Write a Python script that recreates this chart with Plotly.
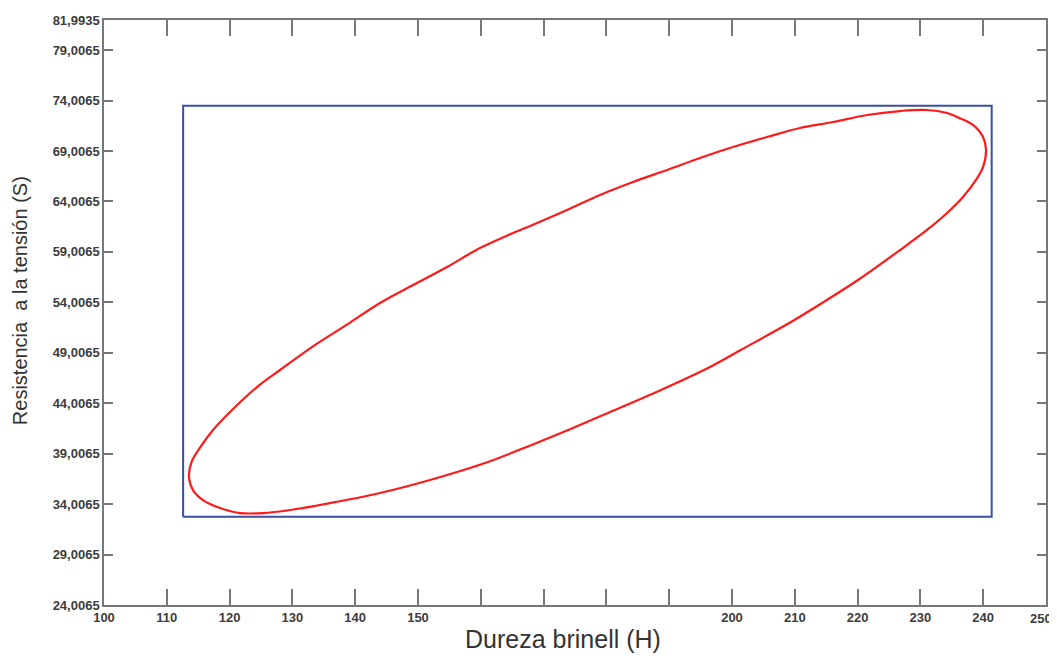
import plotly.graph_objects as go

# ---- data ----
x_tick_values = [100, 110, 120, 130, 140, 150, 160, 170, 180, 190, 200, 210, 220, 230, 240, 250]
x_tick_labels = ["100", "110", "120", "130", "140", "150", "", "", "", "", "200", "210", "220", "230", "240", ""]
x_last_label = "250"
y_tick_values = [24.0065, 29.0065, 34.0065, 39.0065, 44.0065, 49.0065, 54.0065, 59.0065,
                 64.0065, 69.0065, 74.0065, 79.0065, 81.9935]
y_tick_labels = ["24,0065", "29,0065", "34,0065", "39,0065", "44,0065", "49,0065", "54,0065",
                 "59,0065", "64,0065", "69,0065", "74,0065", "79,0065", "81,9935"]

# bounding rectangle (H range, S range)
rect_h = [112.6, 241.35]
rect_s = [32.75, 73.5]

# confidence ellipse contour points (H, S)
ellipse_h = [113.54, 113.95, 115.29, 117.36, 120.06, 124.36, 128.03, 133.28, 138.69, 143.95,
             149.20, 154.62, 159.87, 165.13, 168.31, 173.73, 178.98, 184.24, 189.65, 194.90,
             200.16, 205.57, 210.83, 216.08, 221.50, 226.75, 231.05, 234.24, 235.83, 238.38,
             239.97, 240.45, 239.97, 239.01, 236.78, 234.24, 231.05, 226.75, 220.06, 214.33,
             209.39, 201.59, 196.50, 188.69, 180.25, 174.68, 167.99, 160.67, 151.91, 143.95,
             135.99, 129.62, 125.32, 121.66, 118.47, 115.76, 114.17, 113.54]
ellipse_s = [36.69, 38.20, 39.60, 41.35, 43.14, 45.61, 47.30, 49.65, 51.80, 53.94,
             55.72, 57.51, 59.39, 60.88, 61.70, 63.16, 64.65, 65.94, 67.12, 68.31,
             69.40, 70.39, 71.29, 71.88, 72.58, 72.97, 73.07, 72.77, 72.38, 71.59,
             70.39, 69.11, 67.42, 66.30, 64.45, 62.86, 61.18, 59.19, 56.22, 53.94,
             52.06, 49.35, 47.60, 45.32, 43.04, 41.55, 39.85, 38.08, 36.40, 35.11,
             34.11, 33.42, 33.12, 33.12, 33.62, 34.41, 35.40, 36.69]

x_range = [100, 250]
y_range = [24.0065, 81.9935]

x_title = "Dureza brinell (H)"
y_title = "Resistencia\u00a0 a la tensión (S)"

# ---- figure ----
fig = go.Figure()

fig.add_trace(go.Scatter(
    x=[rect_h[0], rect_h[1], rect_h[1], rect_h[0], rect_h[0]],
    y=[rect_s[0], rect_s[0], rect_s[1], rect_s[1], rect_s[0]],
    mode="lines",
    line=dict(color="#3a4da8", width=2),
    hoverinfo="skip",
    showlegend=False,
))

fig.add_trace(go.Scatter(
    x=ellipse_h,
    y=ellipse_s,
    mode="lines",
    line=dict(color="#ff1a1a", width=2.2, shape="spline", smoothing=1.0),
    showlegend=False,
))

tick_font = dict(family="Liberation Sans Narrow, Arial Narrow, Liberation Sans, Arial, sans-serif",
                 size=13, color="#3c3c3c", weight="bold")

fig.update_xaxes(
    range=x_range,
    tickmode="array",
    tickvals=x_tick_values,
    ticktext=x_tick_labels,
    ticks="inside",
    ticklen=16,
    tickwidth=1.5,
    tickcolor="#777777",
    showline=True,
    linecolor="#777777",
    linewidth=1.5,
    mirror="ticks",
    showgrid=False,
    zeroline=False,
    automargin=False,
    tickfont=tick_font,
)

fig.update_yaxes(
    range=y_range,
    tickmode="array",
    tickvals=y_tick_values,
    ticktext=y_tick_labels,
    ticks="inside",
    ticklen=9,
    tickwidth=1.5,
    tickcolor="#777777",
    showline=True,
    linecolor="#777777",
    linewidth=1.5,
    mirror="ticks",
    showgrid=False,
    zeroline=False,
    automargin=False,
    tickfont=tick_font,
)

fig.update_layout(
    width=1049,
    height=649,
    margin=dict(l=96, r=11, t=12, b=52),
    paper_bgcolor="white",
    plot_bgcolor="white",
    showlegend=False,
    annotations=[
        dict(text=x_last_label, xref="paper", yref="paper", x=1.0080, y=0.0,
             xanchor="right", yanchor="top", showarrow=False, yshift=-4,
             font=tick_font),
        dict(text=x_title, xref="paper", yref="paper", x=0.487, y=-0.086,
             xanchor="center", yanchor="bottom", showarrow=False,
             font=dict(family="Liberation Sans, Arial, sans-serif", size=25, color="#333333")),
        dict(text=y_title, xref="paper", yref="paper", x=-0.0892, y=0.521,
             xanchor="center", yanchor="middle", showarrow=False, textangle=-90,
             font=dict(family="Liberation Sans, Arial, sans-serif", size=20, color="#333333")),
    ],
)

fig.write_html("out.html")
